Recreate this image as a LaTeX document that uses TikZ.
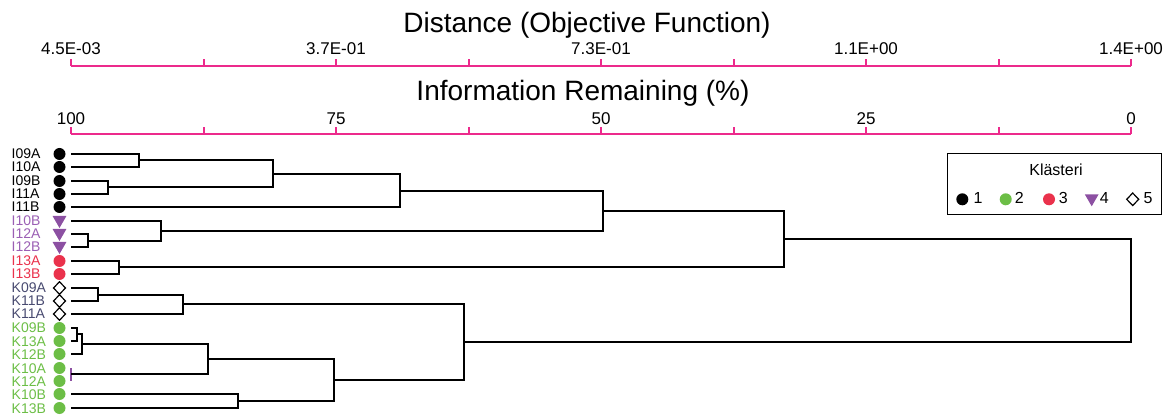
\documentclass[tikz,border=0pt]{standalone}
\usepackage{fontspec}
\setmainfont{Liberation Sans}
\usetikzlibrary{shapes.geometric}

\definecolor{axispink}{RGB}{236,42,140}
\definecolor{clgreen}{RGB}{108,190,70}
\definecolor{clred}{RGB}{234,50,76}
\definecolor{clpurple}{RGB}{140,80,162}
\definecolor{lbpurple}{RGB}{155,95,180}
\definecolor{clslate}{RGB}{72,74,112}
% label colour of each cluster
\colorlet{lc1}{black}
\colorlet{lc2}{clgreen}
\colorlet{lc3}{clred}
\colorlet{lc4}{lbpurple}
\colorlet{lc5}{clslate}

\tikzset{
  axisline/.style={draw=axispink, line width=2pt},
  tickmark/.style={draw=axispink, line width=2pt},
  ticklabel/.style={font=\fontsize{17}{20}\selectfont, anchor=base, inner sep=0pt},
  axistitle/.style={font=\fontsize{28}{32}\selectfont, anchor=base, inner sep=0pt},
  leaflabel/.style={font=\fontsize{14}{16}\selectfont, anchor=base west, inner sep=0pt},
  legnum/.style={font=\fontsize{16}{18}\selectfont, anchor=base, inner sep=0pt},
  dot/.style={circle, minimum size=12pt, inner sep=0pt, fill=#1},
  tri/.style={regular polygon, regular polygon sides=3, shape border rotate=180,
              minimum size=16pt, inner sep=0pt, fill=clpurple, yshift=1pt},
  diam/.style={diamond, minimum width=12.5pt, minimum height=13pt, inner sep=0pt,
               draw=black, fill=white, line width=1.2pt},
  % marker of each cluster
  mk1/.style={dot=black},
  mk2/.style={dot=clgreen},
  mk3/.style={dot=clred},
  mk4/.style={tri},
  mk5/.style={diam},
  link/.style={draw=black, line width=2pt},
  zerolink/.style={draw=clpurple, line width=1.4pt},
}

\begin{document}
\begin{tikzpicture}[x=1pt, y=-1pt]
\useasboundingbox (0,0) rectangle (1169,419);

% ---- distance axis ----
\node[axistitle] (distTitle) at (587,32.3) {Distance (Objective Function)};
\coordinate (dA) at (71,66);
\coordinate (dB) at (1131,66);
\draw[axisline] (dA) -- (dB);
\foreach \k in {0,...,8}
  \draw[tickmark] (71+132.5*\k,66) -- ++(0,-7);
\node[ticklabel] (d0) at (71,55)   {4.5E-03};
\node[ticklabel] (d1) at (336,55)  {3.7E-01};
\node[ticklabel] (d2) at (601,55)  {7.3E-01};
\node[ticklabel] (d3) at (866,55)  {1.1E+00};
\node[ticklabel] (d4) at (1131,55) {1.4E+00};

% ---- information remaining axis ----
\node[axistitle] (infoTitle) at (583,100.7) {Information Remaining (\%)};
\coordinate (iA) at (71,134);
\coordinate (iB) at (1131,134);
\draw[axisline] (iA) -- (iB);
\foreach \k in {0,...,8}
  \draw[tickmark] (71+132.5*\k,134) -- ++(0,-7);
\node[ticklabel] (p0) at (71,125)   {100};
\node[ticklabel] (p1) at (336,125)  {75};
\node[ticklabel] (p2) at (601,125)  {50};
\node[ticklabel] (p3) at (866,125)  {25};
\node[ticklabel] (p4) at (1131,125) {0};

% ---- leaves: label, cluster marker, start of the branch ----
\foreach \name/\i/\c in {I09A/0/1, I10A/1/1, I09B/2/1, I11A/3/1, I11B/4/1,
                         I10B/5/4, I12A/6/4, I12B/7/4, I13A/8/3, I13B/9/3,
                         K09A/10/5, K11B/11/5, K11A/12/5,
                         K09B/13/2, K13A/14/2, K12B/15/2, K10A/16/2, K12A/17/2,
                         K10B/18/2, K13B/19/2}{
  \pgfmathsetmacro\yy{round(154+13.35*\i)}
  \node[leaflabel, text=lc\c] (\name) at (11.5,\yy+5) {\name};
  \node[mk\c] (m\name) at (59.5,\yy) {};
  \coordinate (l\i) at (71,\yy);
}

% ---- merge points ----
\coordinate (j1)  at (139,160);
\coordinate (j2)  at (108,187);
\coordinate (j3)  at (273,174);
\coordinate (j4)  at (400,191);
\coordinate (j5)  at (88,241);
\coordinate (j6)  at (161,231);
\coordinate (j7)  at (603,211);
\coordinate (j8)  at (119,267);
\coordinate (j9)  at (784,239);
\coordinate (j10) at (98,295);
\coordinate (j11) at (183,304);
\coordinate (j12) at (77,334);
\coordinate (j13) at (82,344);
\coordinate (j14) at (71,374);
\coordinate (j15) at (208,359);
\coordinate (j16) at (238,401);
\coordinate (j17) at (334,380);
\coordinate (j18) at (464,342);
\coordinate (j19) at (1131,290);

% ---- dendrogram ----
\begin{scope}[line join=miter]
\draw[link] (l0)  -| (j1)  |- (l1);
\draw[link] (l2)  -| (j2)  |- (l3);
\draw[link] (j1)  -| (j3)  |- (j2);
\draw[link] (j3)  -| (j4)  |- (l4);
\draw[link] (l6)  -| (j5)  |- (l7);
\draw[link] (l5)  -| (j6)  |- (j5);
\draw[link] (j4)  -| (j7)  |- (j6);
\draw[link] (l8)  -| (j8)  |- (l9);
\draw[link] (j7)  -| (j9)  |- (j8);
\draw[link] (l10) -| (j10) |- (l11);
\draw[link] (j10) -| (j11) |- (l12);
\draw[link] (l13) -| (j12) |- (l14);
\draw[link] (j12) -| (j13) |- (l15);
\draw[zerolink] (l16) -- (l17);
\draw[link] (j13) -| (j15) |- (j14);
\draw[link] (l18) -| (j16) |- (l19);
\draw[link] (j15) -| (j17) |- (j16);
\draw[link] (j11) -| (j18) |- (j17);
\draw[link] (j9)  -| (j19) |- (j18);
\end{scope}

% ---- legend ----
\node[draw=black, line width=1.5pt, minimum width=214pt, minimum height=61pt,
      inner sep=0pt, outer sep=0pt, anchor=north west] (legend) at (947.5,153.5) {};
\node[legnum] (legTitle) at (1056,175.7) {Klästeri};
\node[mk1] (k1) at (962.3,199.3) {};
\node[legnum] (n1) at (978,204) {1};
\node[mk2] (k2) at (1005.7,199.3) {};
\node[legnum] (n2) at (1019.3,204) {2};
\node[mk3] (k3) at (1049,199.3) {};
\node[legnum] (n3) at (1063.3,204) {3};
\node[mk4] (k4) at (1091.7,199.3) {};
\node[legnum] (n4) at (1104.3,204) {4};
\node[mk5] (k5) at (1132.7,199.3) {};
\node[legnum] (n5) at (1148,204) {5};
\end{tikzpicture}
\end{document}
